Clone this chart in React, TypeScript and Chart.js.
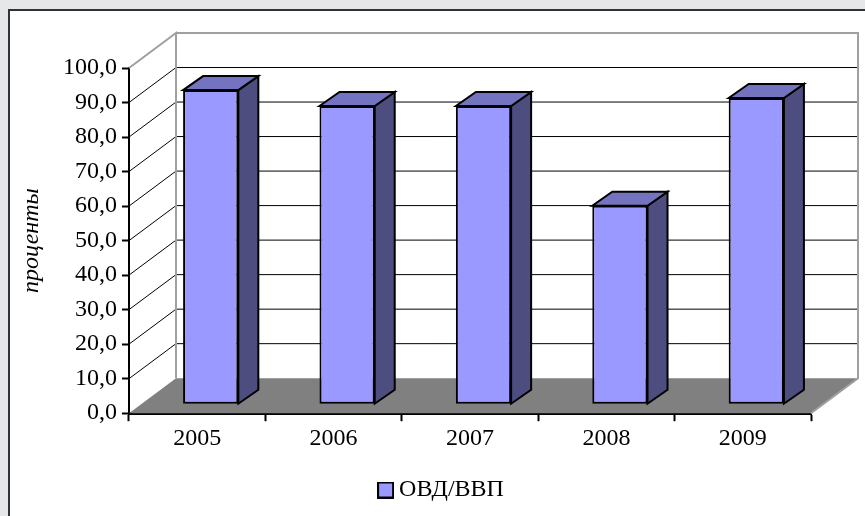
import React, { useEffect, useRef } from "react";
import { Chart, registerables } from "chart.js";

Chart.register(...registerables);

const categories = ["2005", "2006", "2007", "2008", "2009"];
const seriesName = "ОВД/ВВП";
const seriesValues = [91.0, 86.4, 86.4, 57.5, 88.7];
const yTicks = [0, 10, 20, 30, 40, 50, 60, 70, 80, 90, 100];
const yTitle = "проценты";

const FONT = '"Liberation Serif", serif';
const FRONT = "#9999ff";
const TOP = "#7373bf";
const SIDE = "#4d4d80";
const FLOOR = "#808080";
const WALL = "#a0a0a0";
const DEPTH = { x: 47, y: -35 };
const BAR_OFFSET = { x: 13.5, y: -9 };
const BAR_DEPTH = { x: 20, y: -14 };

function legendSwatch() {
  const c = document.createElement("canvas");
  c.width = 17;
  c.height = 17;
  const g = c.getContext("2d")!;
  g.fillStyle = FRONT;
  g.fillRect(1, 1, 15, 15);
  g.strokeStyle = "#000";
  g.lineWidth = 2;
  g.strokeRect(1, 1, 15, 15);
  return c;
}

const chart3d = {
  id: "chart3d",
  afterLayout(chart: any) {
    const lg = chart.legend;
    const w = lg.right - lg.left;
    const centre = 444;
    lg.left = centre - w / 2;
    lg.right = centre + w / 2;
    lg.top += 18;
    lg.bottom += 18;
  },
  beforeDraw(chart: any) {
    const { ctx, width, height } = chart;
    ctx.save();
    ctx.fillStyle = "#e6e7e9";
    ctx.fillRect(0, 0, width, height);
    ctx.fillStyle = "#ffffff";
    ctx.fillRect(8, 9, width - 8, height - 9);
    ctx.strokeStyle = "#333333";
    ctx.lineWidth = 2;
    ctx.beginPath();
    ctx.moveTo(9, height);
    ctx.lineTo(9, 10);
    ctx.lineTo(width, 10);
    ctx.stroke();
    ctx.restore();
  },
  beforeDatasetsDraw(chart: any) {
    const { ctx, chartArea: a } = chart;
    const y = chart.scales.y;
    const y0 = y.getPixelForValue(0);
    const y100 = y.getPixelForValue(100);
    ctx.save();
    // floor
    ctx.fillStyle = FLOOR;
    ctx.beginPath();
    ctx.moveTo(a.left, y0);
    ctx.lineTo(a.left + DEPTH.x, y0 + DEPTH.y);
    ctx.lineTo(a.right + DEPTH.x, y0 + DEPTH.y);
    ctx.lineTo(a.right, y0);
    ctx.closePath();
    ctx.fill();
    // gridlines on side and back wall
    ctx.lineWidth = 1;
    ctx.strokeStyle = "#000";
    yTicks.slice(1, -1).forEach((v) => {
      const py = y.getPixelForValue(v);
      ctx.beginPath();
      ctx.moveTo(a.left, py);
      ctx.lineTo(a.left + DEPTH.x, py + DEPTH.y);
      ctx.lineTo(a.right + DEPTH.x, py + DEPTH.y);
      ctx.stroke();
    });
    // wall outline
    ctx.strokeStyle = WALL;
    ctx.lineWidth = 2;
    ctx.beginPath();
    ctx.moveTo(a.left, y100);
    ctx.lineTo(a.left + DEPTH.x, y100 + DEPTH.y);
    ctx.lineTo(a.left + DEPTH.x, y0 + DEPTH.y);
    ctx.moveTo(a.left + DEPTH.x, y100 + DEPTH.y);
    ctx.lineTo(a.right + DEPTH.x, y100 + DEPTH.y);
    ctx.lineTo(a.right + DEPTH.x, y0 + DEPTH.y);
    ctx.lineTo(a.right, y0);
    ctx.stroke();
    // bar tops and sides
    ctx.lineWidth = 2;
    ctx.strokeStyle = "#000";
    chart.getDatasetMeta(0).data.forEach((b: any) => {
      const p = b.getProps(["x", "y", "base", "width"]);
      const l = p.x - p.width / 2 + BAR_OFFSET.x;
      const r = p.x + p.width / 2 + BAR_OFFSET.x;
      const t = p.y + BAR_OFFSET.y;
      const bt = p.base + BAR_OFFSET.y;
      ctx.fillStyle = SIDE;
      ctx.beginPath();
      ctx.moveTo(r, t);
      ctx.lineTo(r + BAR_DEPTH.x, t + BAR_DEPTH.y);
      ctx.lineTo(r + BAR_DEPTH.x, bt + BAR_DEPTH.y);
      ctx.lineTo(r, bt);
      ctx.closePath();
      ctx.fill();
      ctx.stroke();
      ctx.fillStyle = TOP;
      ctx.beginPath();
      ctx.moveTo(l, t);
      ctx.lineTo(l + BAR_DEPTH.x, t + BAR_DEPTH.y);
      ctx.lineTo(r + BAR_DEPTH.x, t + BAR_DEPTH.y);
      ctx.lineTo(r, t);
      ctx.closePath();
      ctx.fill();
      ctx.stroke();
    });
    ctx.restore();
  },
  beforeDatasetDraw(chart: any) {
    chart.ctx.save();
    chart.ctx.translate(BAR_OFFSET.x, BAR_OFFSET.y);
  },
  afterDatasetDraw(chart: any) {
    chart.ctx.restore();
  },
};

export default function App() {
  const ref = useRef<HTMLCanvasElement>(null);
  useEffect(() => {
    const chart = new Chart(ref.current!, {
      type: "bar",
      data: {
        labels: categories,
        datasets: [
          {
            label: seriesName,
            data: seriesValues,
            backgroundColor: FRONT,
            borderColor: "#000",
            borderWidth: 2,
            borderSkipped: false,
            barPercentage: 0.405,
            categoryPercentage: 1,
          },
        ],
      },
      options: {
        responsive: false,
        animation: false,
        clip: false,
        layout: { padding: { left: 17, right: 54, top: 68, bottom: 22 } },
        scales: {
          x: {
            grid: {
              drawOnChartArea: false,
              drawTicks: true,
              tickLength: 8,
              tickColor: "#000",
              tickWidth: 2,
              offset: true,
            },
            border: { color: "#000", width: 3 },
            ticks: { color: "#000", font: { family: FONT, size: 24 }, padding: 3, maxRotation: 0 },
          },
          y: {
            min: 0,
            max: 100,
            afterFit(s: any) {
              s.width = 112;
            },
            grid: {
              drawOnChartArea: false,
              drawTicks: true,
              tickLength: 7,
              tickColor: "#000",
              tickWidth: 2,
            },
            border: { color: "#000", width: 2 },
            ticks: {
              stepSize: 10,
              color: "#000",
              padding: 5,
              font: { family: FONT, size: 24 },
              callback: (v: any) => Number(v).toFixed(1).replace(".", ","),
            },
            title: {
              display: true,
              text: yTitle,
              color: "#000",
              padding: 0,
              font: { family: FONT, size: 24, style: "italic" },
            },
          },
        },
        plugins: {
          tooltip: { enabled: false },
          legend: {
            display: true,
            position: "bottom",
            labels: {
              color: "#000",
              padding: 4,
              usePointStyle: true,
              pointStyleWidth: 3,
              font: { family: FONT, size: 24 },
              generateLabels: () => [
                {
                  text: seriesName,
                  fillStyle: FRONT,
                  strokeStyle: "#000",
                  lineWidth: 2,
                  pointStyle: legendSwatch(),
                  datasetIndex: 0,
                } as any,
              ],
            },
          },
        },
      },
      plugins: [chart3d],
    } as any);
    return () => chart.destroy();
  }, []);
  return (
    <canvas
      ref={ref}
      width={865}
      height={516}
      style={{ position: "fixed", left: 0, top: 0, width: 865, height: 516, display: "block" }}
    />
  );
}
